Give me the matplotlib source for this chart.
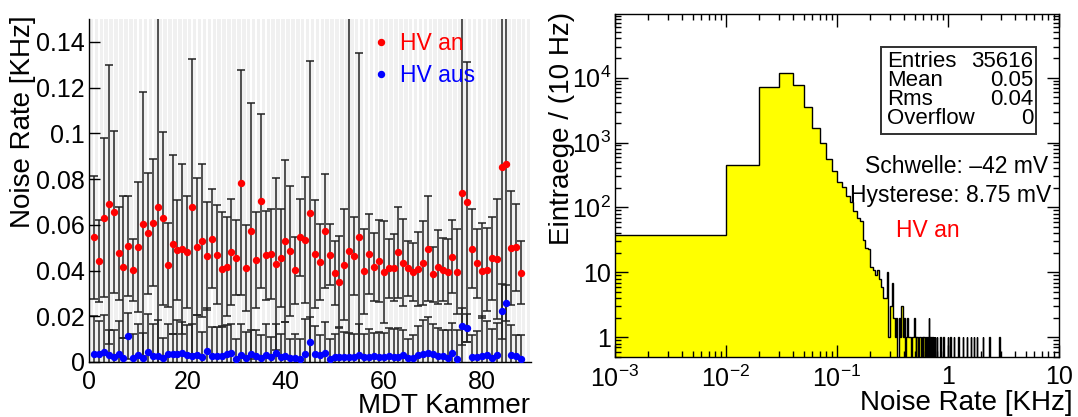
import matplotlib
matplotlib.use('Agg')
import matplotlib.pyplot as plt
from matplotlib.lines import Line2D
from matplotlib.patches import Rectangle
from matplotlib.ticker import FixedLocator, FuncFormatter, LogLocator, NullFormatter
import numpy as np

plt.rcParams['font.family'] = ['Liberation Sans', 'DejaVu Sans']
plt.rcParams['mathtext.fontset'] = 'custom'
plt.rcParams['mathtext.rm'] = 'Liberation Sans'
plt.rcParams['mathtext.it'] = 'Liberation Sans:italic'
plt.rcParams['mathtext.bf'] = 'Liberation Sans:bold'

# noise rate per MDT chamber, HV on / off (KHz), with rms as error
chamber = np.arange(1, 89)
rate_an = [0.0546, 0.0442, 0.0631, 0.0690, 0.0655, 0.0476, 0.0417, 0.0507, 0.0403, 0.0504,
           0.0604, 0.0562, 0.0610, 0.0679, 0.0628, 0.0426, 0.0514, 0.0490, 0.0493, 0.0483,
           0.0680, 0.0504, 0.0531, 0.0463, 0.0540, 0.0469, 0.0407, 0.0416, 0.0482, 0.0457,
           0.0785, 0.0412, 0.0574, 0.0445, 0.0704, 0.0466, 0.0472, 0.0429, 0.0455, 0.0528,
           0.0485, 0.0401, 0.0545, 0.0533, 0.0650, 0.0472, 0.0438, 0.0574, 0.0470, 0.0390,
           0.0352, 0.0426, 0.0485, 0.0463, 0.0547, 0.0396, 0.0472, 0.0417, 0.0441, 0.0394,
           0.0409, 0.0413, 0.0479, 0.0434, 0.0410, 0.0394, 0.0407, 0.0432, 0.0496, 0.0384,
           0.0415, 0.0404, 0.0394, 0.0460, 0.0394, 0.0739, 0.0699, 0.0496, 0.0431, 0.0399,
           0.0403, 0.0453, 0.0450, 0.0853, 0.0866, 0.0499, 0.0501, 0.0391]
err_an = [0.0269, 0.0178, 0.0347, 0.0610, 0.0355, 0.0204, 0.0311, 0.0217, 0.0137, 0.0284,
          0.0576, 0.0266, 0.0279, 0.0950, 0.0379, 0.0184, 0.0393, 0.0218, 0.0371, 0.0245,
          0.0644, 0.0299, 0.0335, 0.0235, 0.0215, 0.0216, 0.0251, 0.0216, 0.0232, 0.0162,
          0.0491, 0.0188, 0.0559, 0.0209, 0.0381, 0.0194, 0.0198, 0.0377, 0.0215, 0.0355,
          0.0284, 0.0146, 0.0169, 0.0277, 0.0668, 0.0235, 0.0165, 0.0249, 0.0133, 0.0140,
          0.0200, 0.0241, 0.1100, 0.0169, 0.0803, 0.0184, 0.0176, 0.0149, 0.0178, 0.0223,
          0.0131, 0.0145, 0.0200, 0.0191, 0.0120, 0.0126, 0.0163, 0.0184, 0.0229, 0.0121,
          0.0162, 0.0139, 0.0142, 0.0160, 0.0186, 0.0900, 0.0611, 0.0174, 0.0151, 0.0207,
          0.0181, 0.0182, 0.0261, 0.0950, 0.0950, 0.0250, 0.0189, 0.0136]
rate_aus = [0.0035, 0.0035, 0.0044, 0.0029, 0.0022, 0.0036, 0.0019, 0.0114, 0.0018, 0.0032,
            0.0019, 0.0042, 0.0025, 0.0028, 0.0018, 0.0035, 0.0035, 0.0034, 0.0041, 0.0032,
            0.0025, 0.0031, 0.0023, 0.0050, 0.0028, 0.0028, 0.0028, 0.0035, 0.0041, 0.0013,
            0.0032, 0.0018, 0.0034, 0.0028, 0.0016, 0.0032, 0.0020, 0.0039, 0.0020, 0.0026,
            0.0016, 0.0018, 0.0013, 0.0035, 0.0088, 0.0034, 0.0031, 0.0038, 0.0013, 0.0020,
            0.0023, 0.0023, 0.0023, 0.0020, 0.0029, 0.0020, 0.0022, 0.0025, 0.0022, 0.0022,
            0.0025, 0.0020, 0.0022, 0.0032, 0.0016, 0.0018, 0.0032, 0.0036, 0.0039, 0.0034,
            0.0028, 0.0026, 0.0018, 0.0039, 0.0013, 0.0156, 0.0149, 0.0020, 0.0022, 0.0026,
            0.0031, 0.0016, 0.0031, 0.0222, 0.0258, 0.0032, 0.0026, 0.0015]
err_aus = [0.0165, 0.0145, 0.0160, 0.0110, 0.0117, 0.0144, 0.0088, 0.0100, 0.0106, 0.0136,
           0.0110, 0.0170, 0.0143, 0.0157, 0.0089, 0.0133, 0.0089, 0.0151, 0.0134, 0.0128,
           0.0143, 0.0173, 0.0108, 0.0184, 0.0125, 0.0125, 0.0125, 0.0125, 0.0127, 0.0089,
           0.0133, 0.0112, 0.0105, 0.0114, 0.0104, 0.0136, 0.0090, 0.0129, 0.0104, 0.0149,
           0.0085, 0.0103, 0.0089, 0.0155, 0.0110, 0.0124, 0.0086, 0.0137, 0.0089, 0.0101,
           0.0126, 0.0108, 0.0105, 0.0104, 0.0139, 0.0104, 0.0124, 0.0103, 0.0109, 0.0106,
           0.0125, 0.0126, 0.0128, 0.0110, 0.0086, 0.0102, 0.0124, 0.0146, 0.0158, 0.0134,
           0.0122, 0.0116, 0.0121, 0.0132, 0.0126, 0.0080, 0.0060, 0.0097, 0.0112, 0.0174,
           0.0149, 0.0130, 0.0140, 0.0120, 0.0080, 0.0128, 0.0091, 0.0102]

# noise rate distribution, HV on: bins of 10 Hz from 0 to 3 KHz
bin_width = 0.01
n_bins = 300
counts_low = [38, 443, 7160, 11940, 7800, 3530, 1700, 1000, 567, 358,
              248, 205, 150, 120, 88, 68, 62, 32, 24, 23,
              12, 11, 9, 11, 8, 6, 4, 4, 10, 1,
              3, 7, 2, 1, 2, 0, 2, 1, 3, 1,
              2, 0, 1, 2, 1, 1, 0, 1, 1, 2,
              1, 0, 1, 1, 0, 1, 1, 0, 1, 0,
              1, 1, 0, 1, 1, 0, 1, 2, 0, 1, 0]
single_bins = [72, 74, 76, 79, 85, 91, 99, 105, 113, 124, 136, 147, 160, 171, 181, 205, 236, 290]

stat_names = ['Entries', 'Mean', 'Rms', 'Overflow']
stat_values = ['35616', '0.05', '0.04', '0']

fig = plt.figure(figsize=(10.78, 4.17), dpi=100)

# ---- left pad: rate per chamber ----
ax1 = fig.add_axes([0.0826, 0.1319, 0.41, 0.8225])
ax1.bar(np.arange(0, 90) + 0.5, 0.15, width=0.72, color='#f0f0f0', zorder=0)
ax1.errorbar(chamber, rate_an, yerr=err_an, fmt='none', ecolor='#222222',
             elinewidth=1.1, capsize=3.2, capthick=1.1, zorder=2)
ax1.errorbar(chamber, rate_aus, yerr=err_aus, fmt='none', ecolor='#222222',
             elinewidth=1.1, capsize=3.2, capthick=1.1, zorder=2)
ax1.plot(chamber, rate_aus, ls='none', marker='o', ms=4.3, color='blue', mec='blue', zorder=3)
ax1.plot(chamber, rate_an, ls='none', marker='o', ms=4.3, color='red', mec='red', zorder=4)
ax1.set_xlim(0, 90)
ax1.set_ylim(0, 0.15)
for s in ['top', 'right']:
    ax1.spines[s].set_visible(False)
for s in ['left', 'bottom']:
    ax1.spines[s].set_linewidth(1.0)
ax1.set_xticks([0, 20, 40, 60, 80])
ax1.set_yticks(np.arange(0, 0.141, 0.02))
ax1.yaxis.set_major_formatter(FuncFormatter(lambda v, p: '%g' % round(v, 3)))
ax1.tick_params(axis='x', length=0, pad=6, labelsize=18)
ax1.tick_params(axis='y', direction='in', length=8, width=1.0, pad=3, labelsize=18)
ax1.set_axisbelow(False)

handles = [Line2D([], [], ls='none', marker='o', ms=4.3, color='red'),
           Line2D([], [], ls='none', marker='o', ms=4.3, color='blue')]
ax1.legend(handles, ['HV an', 'HV aus'], loc='upper left', bbox_to_anchor=(0.625, 0.99),
           frameon=False, fontsize=16.5, handlelength=0.6, handletextpad=0.5,
           labelspacing=0.4, labelcolor=['red', 'blue'], borderaxespad=0)

fig.text(23 / 1078, 1 - 15 / 417, 'Noise Rate [KHz]', rotation=90, ha='center', va='top', fontsize=20)
fig.text(530 / 1078, 1 - 413 / 417, 'MDT Kammer', ha='right', va='baseline', fontsize=20)

# ---- right pad: distribution ----
ax2 = fig.add_axes([0.5705, 0.1439, 0.4119, 0.8225])
edges = np.arange(n_bins + 1) * bin_width
edges[0] = 1e-4  # log axis: let the first bin start left of the frame
counts = np.zeros(n_bins)
counts[:len(counts_low)] = counts_low
counts[single_bins] = 1
shown = np.where(counts > 0, counts, 1e-2)
ax2.stairs(shown, edges, baseline=1e-2, fill=True, color='#ffff00', zorder=1)
ax2.stairs(shown, edges, baseline=1e-2, color='black', lw=1.0, zorder=2)
ax2.set_xscale('log')
ax2.set_yscale('log')
ax2.set_xlim(1e-3, 10)
ax2.set_ylim(0.5, 9.5e4)

def log_label(v, pos):
    if v == 1:
        return '1'
    if v == 10:
        return '10'
    return r'$\mathregular{10^{%d}}$' % round(np.log10(v))

ax2.xaxis.set_major_locator(FixedLocator([1e-3, 1e-2, 1e-1, 1, 10]))
ax2.yaxis.set_major_locator(FixedLocator([1, 10, 1e2, 1e3, 1e4]))
ax2.xaxis.set_major_formatter(FuncFormatter(log_label))
ax2.yaxis.set_major_formatter(FuncFormatter(log_label))
ax2.xaxis.set_minor_locator(LogLocator(base=10, subs=np.arange(2, 10), numticks=20))
ax2.yaxis.set_minor_locator(LogLocator(base=10, subs=np.arange(2, 10), numticks=20))
ax2.xaxis.set_minor_formatter(NullFormatter())
ax2.yaxis.set_minor_formatter(NullFormatter())
ax2.tick_params(which='both', direction='in', top=True, right=True, width=1.0)
ax2.tick_params(which='major', length=9)
ax2.tick_params(which='minor', length=4.5)
ax2.tick_params(axis='x', which='major', pad=6, labelsize=18)
ax2.tick_params(axis='y', which='major', pad=3, labelsize=18)
for s in ax2.spines.values():
    s.set_linewidth(1.0)

# statistics box: one block of names, one block of values
ax2.add_patch(Rectangle((0.599, 0.650), 0.349, 0.254, transform=ax2.transAxes,
                        fill=False, ec='#303030', lw=1.4, zorder=5))
ax2.text(0.612, 0.778, '\n'.join(stat_names), transform=ax2.transAxes, ha='left', va='center',
         fontsize=16, linespacing=0.88, zorder=6)
ax2.text(0.942, 0.778, '\n'.join(stat_values), transform=ax2.transAxes, ha='right', va='center',
         fontsize=16, linespacing=0.88, multialignment='right', zorder=6)

ax2.text(0.975, 0.554, 'Schwelle: \u201342 mV', transform=ax2.transAxes, ha='right', va='center', fontsize=16.5)
ax2.text(0.982, 0.472, 'Hysterese: 8.75 mV', transform=ax2.transAxes, ha='right', va='center', fontsize=16.5)
ax2.text(0.705, 0.370, 'HV an', transform=ax2.transAxes, ha='center', va='center', fontsize=16.5, color='red')

fig.text(562 / 1078, 1 - 12 / 417, 'Eintraege / (10 Hz)', rotation=90, ha='center', va='top', fontsize=20)
fig.text(1073 / 1078, 1 - 410 / 417, 'Noise Rate [KHz]', ha='right', va='baseline', fontsize=20)

fig.savefig('out.png', dpi=100)
